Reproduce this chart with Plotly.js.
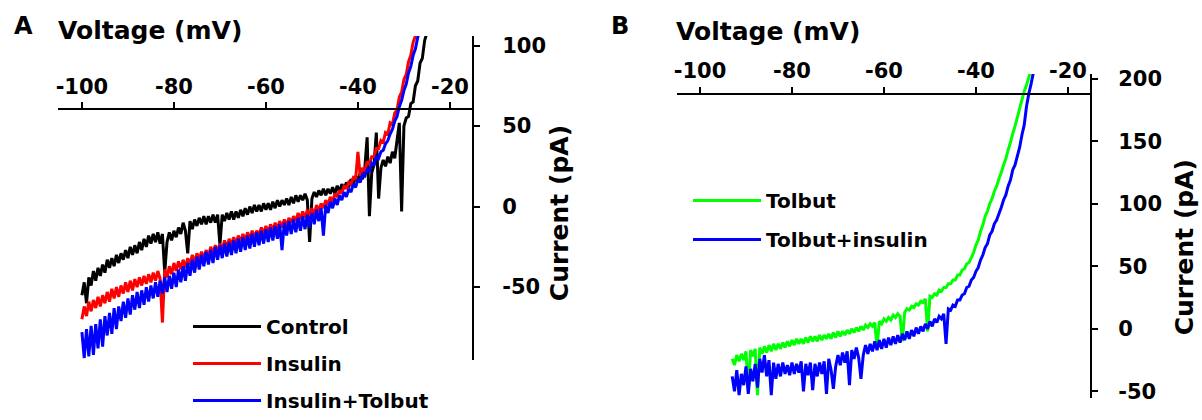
<!DOCTYPE html>
<html>
<head>
<meta charset="utf-8">
<script src="https://cdn.plot.ly/plotly-3.0.1.min.js"></script>
<style>html,body{margin:0;padding:0;background:#fff;}#chart{width:1202px;height:420px;}</style>
</head>
<body>
<div id="chart"></div>
<script>
// ---------- Panel A data (Voltage in mV, Current in pA) ----------
const voltageA = [-100,-99.5,-99,-98.5,-98,-97.5,-97,-96.5,-96,-95.5,-95,-94.5,-94,-93.5,-93,-92.5,-92,-91.5,-91,-90.5,-90,-89.5,-89,-88.5,-88,-87.5,-87,-86.5,-86,-85.5,-85,-84.5,-84,-83.5,-83,-82.5,-82,-81.5,-81,-80.5,-80,-79.5,-79,-78.5,-78,-77.5,-77,-76.5,-76,-75.5,-75,-74.5,-74,-73.5,-73,-72.5,-72,-71.5,-71,-70.5,-70,-69.5,-69,-68.5,-68,-67.5,-67,-66.5,-66,-65.5,-65,-64.5,-64,-63.5,-63,-62.5,-62,-61.5,-61,-60.5,-60,-59.5,-59,-58.5,-58,-57.5,-57,-56.5,-56,-55.5,-55,-54.5,-54,-53.5,-53,-52.5,-52,-51.5,-51,-50.5,-50,-49.5,-49,-48.5,-48,-47.5,-47,-46.5,-46,-45.5,-45,-44.5,-44,-43.5,-43,-42.5,-42,-41.5,-41,-40.5,-40,-39.5,-39,-38.5,-38,-37.5,-37,-36.5,-36,-35.5,-35,-34.5,-34,-33.5,-33,-32.5,-32,-31.5,-31,-30.5,-30,-29.5,-29,-28.5,-28,-27.5,-27,-26.5,-26,-25.5,-25];

const controlA = [-55,-47,-60,-44,-49,-40,-46,-38,-43,-36,-41,-33,-38,-32,-37,-30,-35,-29,-33,-27,-32,-25,-30,-24,-29,-22,-27,-20,-25,-18,-23,-17,-22,-16,-23,-17,-41,-22,-16,-21,-15,-19,-13,-17,-10,-15,-29,-9,-14,-8,-12,-7,-11,-6,-11,-6,-10,-5,-10,-5,-24,-5,-9,-4,-8,-3,-8,-3,-7,-2,-6,-1,-5,0,-4,1,-3,1,-3,2,-2,2,-2,3,-1,4,0,4,1,5,1,6,2,7,3,7,4,8,4,-22,5,9,6,10,7,11,7,11,8,12,8,13,9,14,11,15,12,17,14,19,16,21,17,24,43,-6,21,26,46,5,24,29,25,31,27,34,30,41,52,-3,50,55,56,64,65,75,78,89,92,103,108];

const insulinA = [-70,-62,-68,-59,-65,-58,-63,-56,-62,-55,-60,-53,-59,-51,-57,-50,-56,-49,-54,-47,-53,-46,-52,-45,-50,-44,-49,-43,-48,-42,-47,-41,-46,-40,-45,-72,-39,-44,-37,-42,-35,-40,-34,-39,-33,-38,-32,-36,-30,-35,-29,-33,-28,-32,-27,-31,-25,-29,-24,-28,-23,-27,-21,-26,-20,-24,-19,-23,-18,-22,-17,-21,-16,-20,-15,-19,-15,-18,-13,-17,-12,-16,-11,-15,-10,-14,-9,-13,-8,-12,-7,-10,-6,-9,-4,-8,-3,-7,-2,-6,-1,-5,1,-3,2,-1,4,1,6,3,8,6,10,8,13,11,15,14,18,17,34,19,24,22,28,26,31,31,36,36,41,40,46,45,52,51,58,60,68,71,79,82,90,94,102,106,113,118,124,130,136];

const insulinTolbutA = [-78,-94,-76,-93,-74,-92,-73,-88,-70,-87,-68,-80,-66,-79,-63,-76,-62,-71,-59,-69,-57,-67,-55,-64,-53,-63,-52,-61,-50,-59,-49,-57,-47,-56,-46,-54,-44,-53,-43,-51,-41,-50,-39,-47,-37,-46,-35,-43,-33,-41,-31,-39,-30,-37,-28,-36,-27,-35,-25,-33,-24,-32,-23,-31,-22,-30,-21,-29,-20,-28,-19,-27,-18,-26,-17,-25,-16,-24,-15,-23,-14,-22,-13,-21,-12,-20,-11,-27,-10,-18,-9,-17,-8,-16,-7,-15,-6,-14,-5,-13,-4,-11,-2,-9,-1,-18,1,-4,3,-1,5,1,7,4,9,6,11,9,14,12,17,15,20,19,23,22,27,26,31,30,34,35,39,41,45,48,53,56,62,66,72,76,83,87,94,98,105,110,116,121,127];

// ---------- Panel B data ----------
const voltageB = [-93,-92.5,-92,-91.5,-91,-90.5,-90,-89.5,-89,-88.5,-88,-87.5,-87,-86.5,-86,-85.5,-85,-84.5,-84,-83.5,-83,-82.5,-82,-81.5,-81,-80.5,-80,-79.5,-79,-78.5,-78,-77.5,-77,-76.5,-76,-75.5,-75,-74.5,-74,-73.5,-73,-72.5,-72,-71.5,-71,-70.5,-70,-69.5,-69,-68.5,-68,-67.5,-67,-66.5,-66,-65.5,-65,-64.5,-64,-63.5,-63,-62.5,-62,-61.5,-61,-60.5,-60,-59.5,-59,-58.5,-58,-57.5,-57,-56.5,-56,-55.5,-55,-54.5,-54,-53.5,-53,-52.5,-52,-51.5,-51,-50.5,-50,-49.5,-49,-48.5,-48,-47.5,-47,-46.5,-46,-45.5,-45,-44.5,-44,-43.5,-43,-42.5,-42,-41.5,-41,-40.5,-40,-39.5,-39,-38.5,-38,-37.5,-37,-36.5,-36,-35.5,-35,-34.5,-34,-33.5,-33,-32.5,-32,-31.5,-31,-30.5,-30,-29.5,-29,-28.5,-28,-27.5,-27];

const tolbutB = [-24,-29,-21,-26,-20,-25,-18,-50,-17,-22,-16,-53,-15,-20,-14,-19,-13,-18,-12,-17,-12,-16,-11,-15,-10,-14,-9,-13,-8,-12,-8,-12,-7,-11,-6,-10,-6,-10,-5,-9,-5,-8,-4,-8,-3,-7,-2,-6,-2,-5,-1,-4,0,-3,1,-2,2,-1,3,1,4,2,5,-15,6,4,8,6,9,7,11,9,12,10,-10,13,16,15,18,17,20,19,22,21,24,-2,26,25,28,27,31,30,33,33,36,36,39,39,43,43,47,48,52,53,57,61,67,71,78,83,90,94,100,104,110,114,120,125,131,136,143,149,156,162,169,176,183,190,195,201,207,213,219];

const tolbutInsulinB = [-38,-50,-33,-53,-36,-45,-30,-52,-32,-42,-28,-47,-24,-35,-21,-38,-25,-53,-27,-40,-28,-38,-27,-36,-29,-37,-27,-36,-28,-35,-26,-50,-28,-37,-27,-49,-28,-38,-27,-36,-26,-52,-24,-33,-48,-30,-21,-29,-19,-27,-18,-45,-17,-24,-15,-23,-40,-21,-13,-20,-12,-18,-10,-17,-9,-16,-8,-15,-7,-13,-6,-12,-5,-11,-4,-9,-2,-8,-1,-6,1,-4,2,-2,4,0,6,2,8,5,10,8,12,-12,16,15,19,18,23,23,27,28,33,34,39,41,46,49,55,59,65,68,75,78,84,87,92,97,103,107,114,119,127,131,138,145,155,163,178,188,196,205,212];

// ---------- Labels ----------
const seriesNamesA = ['Control', 'Insulin', 'Insulin+Tolbut'];
const seriesNamesB = ['Tolbut', 'Tolbut+insulin'];
const xTickValues = [-100, -80, -60, -40, -20];
const xTickLabels = ['-100', '-80', '-60', '-40', '-20'];
const yTickValuesA = [-50, 0, 50, 100];
const yTickLabelsA = ['-50', '0', '50', '100'];
const yTickValuesB = [-50, 0, 50, 100, 150, 200];
const yTickLabelsB = ['-50', '0', '50', '100', '150', '200'];
const xTitle = 'Voltage (mV)';
const yTitle = 'Current (pA)';
const panelLetters = ['A', 'B'];

const W = 1202, H = 420;
const px = v => v / W;
const py = v => 1 - v / H;
const FONT = 'DejaVu Sans';

function trace(x, y, name, color, xa, ya, leg, grp) {
  return {
    type: 'scatter', mode: 'lines', x: x, y: y, name: name,
    xaxis: xa, yaxis: ya, legend: leg, legendgroup: grp,
    line: {color: color, width: 3, simplify: false},
    hoverinfo: 'skip'
  };
}

const data = [
  trace(voltageA, controlA, seriesNamesA[0], '#000000', 'x', 'y', 'legend', 'a1'),
  trace(voltageA, insulinA, seriesNamesA[1], '#ff0000', 'x', 'y', 'legend', 'a2'),
  trace(voltageA, insulinTolbutA, seriesNamesA[2], '#0000ff', 'x', 'y', 'legend', 'a3'),
  trace(voltageB, tolbutB, seriesNamesB[0], '#00ff00', 'x2', 'y2', 'legend2', 'b1'),
  trace(voltageB, tolbutInsulinB, seriesNamesB[1], '#0000ff', 'x2', 'y2', 'legend2', 'b2')
];

const tickFont = {family: FONT, size: 21, weight: 'bold', color: '#000'};
const axCommon = {
  showline: true, linewidth: 2, linecolor: '#000', showgrid: false, zeroline: false,
  ticks: 'outside', ticklen: 6, tickwidth: 2, tickcolor: '#000', tickfont: tickFont,
  fixedrange: true, tickmode: 'array'
};

const layout = {
  width: W, height: H,
  margin: {l: 0, r: 0, t: 0, b: 0},
  paper_bgcolor: '#fff', plot_bgcolor: 'rgba(0,0,0,0)',
  font: {family: FONT, weight: 'bold', color: '#000'},
  showlegend: true,
  xaxis: Object.assign({}, axCommon, {
    domain: [px(58), px(472)], range: [-105.2, -15.2],
    side: 'top', anchor: 'free', position: py(115),
    tickvals: xTickValues, ticktext: xTickLabels, ticklabelstandoff: 0
  }),
  yaxis: Object.assign({}, axCommon, {
    domain: [py(380), py(38)], range: [-95.3, 105.9],
    side: 'right', anchor: 'x', tickvals: yTickValuesA, ticktext: yTickLabelsA, ticklabelstandoff: 18
  }),
  xaxis2: Object.assign({}, axCommon, {
    domain: [px(677), px(1090)], range: [-105, -15.2],
    side: 'top', anchor: 'free', position: py(99),
    tickvals: xTickValues, ticktext: xTickLabels, ticklabelstandoff: 0
  }),
  yaxis2: Object.assign({}, axCommon, {
    domain: [0, py(78)], range: [-55.3, 203.8],
    side: 'right', anchor: 'x2', tickvals: yTickValuesB, ticktext: yTickLabelsB, ticklabelstandoff: 16
  }),
  legend: {
    x: px(188), y: py(324), xanchor: 'left', yanchor: 'top',
    bgcolor: 'rgba(0,0,0,0)', borderwidth: 0, itemwidth: 68, tracegroupgap: 8,
    font: {family: FONT, size: 20, weight: 'bold', color: '#000'}, itemclick: false, itemdoubleclick: false
  },
  legend2: {
    x: px(688), y: py(191), xanchor: 'left', yanchor: 'top',
    bgcolor: 'rgba(0,0,0,0)', borderwidth: 0, itemwidth: 68, tracegroupgap: 10,
    font: {family: FONT, size: 20, weight: 'bold', color: '#000'}, itemclick: false, itemdoubleclick: false
  },
  annotations: [
    {text: panelLetters[0], xref: 'paper', yref: 'paper', x: px(23), y: py(27), xanchor: 'center', yanchor: 'middle', showarrow: false, font: {family: FONT, size: 24, weight: 'bold', color: '#000'}},
    {text: panelLetters[1], xref: 'paper', yref: 'paper', x: px(620), y: py(27), xanchor: 'center', yanchor: 'middle', showarrow: false, font: {family: FONT, size: 24, weight: 'bold', color: '#000'}},
    {text: xTitle, xref: 'paper', yref: 'paper', x: px(150), y: py(32), xanchor: 'center', yanchor: 'middle', showarrow: false, font: {family: FONT, size: 25, weight: 'bold', color: '#000'}},
    {text: xTitle, xref: 'paper', yref: 'paper', x: px(768), y: py(33), xanchor: 'center', yanchor: 'middle', showarrow: false, font: {family: FONT, size: 25, weight: 'bold', color: '#000'}},
    {text: yTitle, xref: 'paper', yref: 'paper', x: px(559), y: py(225), xanchor: 'center', yanchor: 'middle', textangle: -90, showarrow: false, font: {family: FONT, size: 25, weight: 'bold', color: '#000'}},
    {text: yTitle, xref: 'paper', yref: 'paper', x: px(1184), y: py(261), xanchor: 'center', yanchor: 'middle', textangle: -90, showarrow: false, font: {family: FONT, size: 25, weight: 'bold', color: '#000'}}
  ]
};

Plotly.newPlot('chart', data, layout, {displayModeBar: false, staticPlot: true});
</script>
</body>
</html>
